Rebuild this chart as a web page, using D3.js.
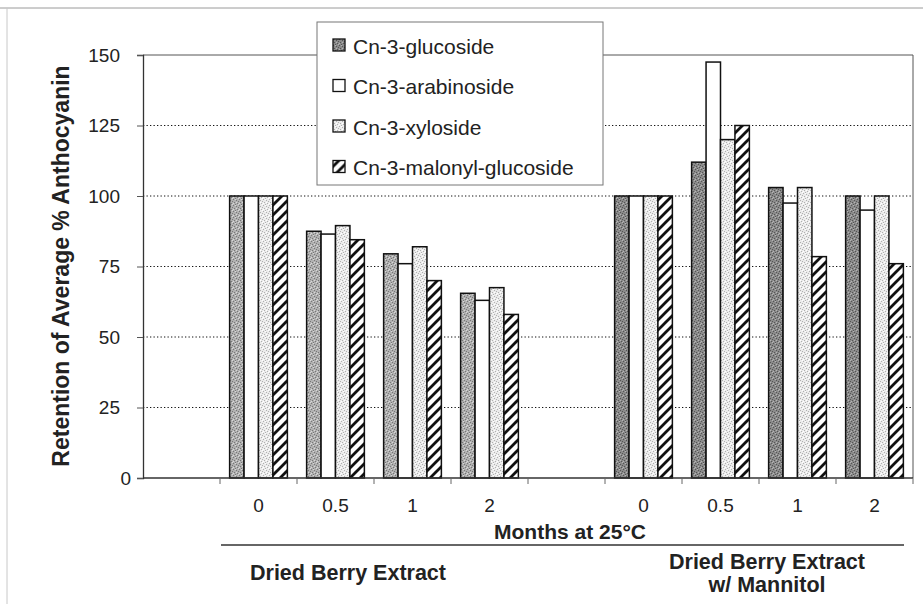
<!DOCTYPE html>
<html>
<head>
<meta charset="utf-8">
<script src="https://cdn.jsdelivr.net/npm/d3@7"></script>
<style>
  body { margin: 0; background: #fff; }
  text { font-family: "Liberation Sans", Arial, sans-serif; fill: #222; }
</style>
</head>
<body>
<div id="chart"></div>
<script>
// months at 25C, two blank slots separate the formulations
const categories = ["", "0", "0.5", "1", "2", "", "0", "0.5", "1", "2"];
const catGroup = [0, 0, 0, 0, 0, 1, 1, 1, 1, 1];
const groupLabels = [["Dried Berry Extract"], ["Dried Berry Extract", "w/ Mannitol"]];

const seriesNames = ["Cn-3-glucoside", "Cn-3-arabinoside", "Cn-3-xyloside", "Cn-3-malonyl-glucoside"];
const glucoside   = [null, 100, 87.5, 79.5, 65.5, null, 100, 112, 103, 100];
const arabinoside = [null, 100, 86.5, 76, 63, null, 100, 147.5, 97.5, 95];
const xyloside    = [null, 100, 89.5, 82, 67.5, null, 100, 120, 103, 100];
const malonyl     = [null, 100, 84.5, 70, 58, null, 100, 125, 78.5, 76];
const yTicks = [0, 25, 50, 75, 100, 125, 150];

const allSeries = [glucoside, arabinoside, xyloside, malonyl];

var width = 923, height = 604;
var margin = { top: 55, right: 10, bottom: 126, left: 143 };
var plotW = 913 - margin.left;
var plotH = height - margin.top - margin.bottom;

var svg = d3.select("#chart").append("svg")
  .attr("width", width)
  .attr("height", height);

svg.append("rect").attr("width", width).attr("height", height).attr("fill", "#fff");

// patterns
var defs = svg.append("defs");
function stipple(id, base, dark, light) {
  var p = defs.append("pattern").attr("id", id)
    .attr("patternUnits", "userSpaceOnUse").attr("width", 6).attr("height", 6);
  p.append("rect").attr("width", 6).attr("height", 6).attr("fill", base);
  [[0, 0], [3, 1], [1, 3], [4, 4], [5, 2], [2, 5]].forEach(d =>
    p.append("rect").attr("x", d[0]).attr("y", d[1]).attr("width", 1).attr("height", 1).attr("fill", dark));
  [[2, 0], [5, 5], [0, 4], [3, 3]].forEach(d =>
    p.append("rect").attr("x", d[0]).attr("y", d[1]).attr("width", 1).attr("height", 1).attr("fill", light));
}
stipple("glucA", "#b0b0b0", "#777", "#d8d8d8");
stipple("glucB", "#8a8a8a", "#555", "#b4b4b4");
stipple("xylo", "#ebebeb", "#b0b0b0", "#ffffff");

var hatch = defs.append("pattern").attr("id", "hatch")
  .attr("patternUnits", "userSpaceOnUse").attr("width", 10).attr("height", 10);
hatch.append("rect").attr("width", 10).attr("height", 10).attr("fill", "#fff");
hatch.append("path").attr("d", "M-2,2 l4,-4 M0,10 l10,-10 M8,12 l4,-4")
  .attr("stroke", "#111").attr("stroke-width", 2.8);

var fills = [
  (i) => catGroup[i] === 0 ? "url(#glucA)" : "url(#glucB)",
  () => "#fff",
  () => "url(#xylo)",
  () => "url(#hatch)"
];
var legendFills = ["url(#glucB)", "#fff", "url(#xylo)", "url(#hatch)"];

// outer frame of the scanned figure
svg.append("line").attr("x1", 0).attr("x2", width).attr("y1", 8).attr("y2", 8)
  .attr("stroke", "#9a9a9a").attr("stroke-width", 1);
svg.append("line").attr("x1", 7).attr("x2", 7).attr("y1", 8).attr("y2", height)
  .attr("stroke", "#c8c8c8").attr("stroke-width", 1);

var g = svg.append("g").attr("transform", "translate(" + margin.left + "," + margin.top + ")");

var x0 = d3.scaleBand()
  .domain(d3.range(categories.length))
  .range([0, plotW])
  .paddingInner(0.25)
  .paddingOuter(0.125);

var x1 = d3.scaleBand()
  .domain(d3.range(seriesNames.length))
  .range([0, x0.bandwidth()]);

var y = d3.scaleLinear().domain([0, 150]).range([plotH, 0]);

// plot frame (top and right)
g.append("path")
  .attr("d", "M0,0 H" + plotW + " V" + plotH)
  .attr("fill", "none").attr("stroke", "#555").attr("stroke-width", 1);

// dotted gridlines
g.selectAll(".grid").data(yTicks.filter(d => d > 0 && d < 150)).enter()
  .append("line").attr("class", "grid")
  .attr("x1", 0).attr("x2", plotW)
  .attr("y1", d => y(d)).attr("y2", d => y(d))
  .attr("stroke", "#111").attr("stroke-width", 1.2)
  .attr("stroke-dasharray", "1.3,2.2");

// bars
allSeries.forEach((vals, s) => {
  g.selectAll(".bar" + s)
    .data(vals.map((v, i) => ({ v: v, i: i })).filter(d => d.v !== null))
    .enter().append("rect")
    .attr("class", "bar" + s)
    .attr("x", d => x0(d.i) + x1(s))
    .attr("y", d => y(d.v))
    .attr("width", x1.bandwidth())
    .attr("height", d => y(0) - y(d.v))
    .attr("fill", d => fills[s](d.i))
    .attr("stroke", "#111")
    .attr("stroke-width", 1.5);
});

// y axis
var yAxis = g.append("g")
  .call(d3.axisLeft(y).tickValues(yTicks).tickSize(6).tickPadding(17));
yAxis.select(".domain").attr("stroke", "#333").attr("stroke-width", 1.3);
yAxis.selectAll(".tick line").attr("stroke", "#555");
yAxis.selectAll(".tick text")
  .attr("font-size", 19)
  .attr("font-family", "'Liberation Sans', Arial, sans-serif")
  .attr("fill", "#222")
  .attr("dx", d => d === 0 ? 11 : 0);

// x axis with ticks at category boundaries
var xAxisG = g.append("g").attr("transform", "translate(0," + plotH + ")");
xAxisG.append("line").attr("x1", 0).attr("x2", plotW)
  .attr("stroke", "#333").attr("stroke-width", 1.3);
xAxisG.selectAll(".xtick").data(d3.range(1, categories.length + 1)).enter()
  .append("line").attr("class", "xtick")
  .attr("x1", d => x0.step() * d).attr("x2", d => x0.step() * d)
  .attr("y1", 0).attr("y2", 6)
  .attr("stroke", "#666");
xAxisG.selectAll(".xlabel").data(categories).enter()
  .append("text").attr("class", "xlabel")
  .attr("x", (d, i) => x0(i) + x0.bandwidth() / 2)
  .attr("y", 34)
  .attr("text-anchor", "middle")
  .attr("font-size", 19)
  .text(d => d);

// axis titles
svg.append("text")
  .attr("transform", "translate(61,266) rotate(-90)")
  .attr("text-anchor", "middle")
  .attr("dominant-baseline", "central")
  .attr("font-size", 23)
  .attr("font-weight", "bold")
  .text("Retention of Average % Anthocyanin");

svg.append("text")
  .attr("x", 570).attr("y", 539)
  .attr("text-anchor", "middle")
  .attr("font-size", 21)
  .attr("font-weight", "bold")
  .text("Months at 25°C");

// group divider line and labels
svg.append("line")
  .attr("x1", 221).attr("x2", 904).attr("y1", 545).attr("y2", 545)
  .attr("stroke", "#333").attr("stroke-width", 1.5);

var groupX = [348, 767];
var groupY = [580, 569];
groupLabels.forEach((lines, k) => {
  var t = svg.append("text")
    .attr("x", groupX[k]).attr("y", groupY[k])
    .attr("text-anchor", "middle")
    .attr("font-size", 21.5)
    .attr("font-weight", "bold");
  lines.forEach((l, j) => t.append("tspan").attr("x", groupX[k]).attr("dy", j ? 23 : 0).text(l));
});

// legend
var legend = svg.append("g").attr("transform", "translate(317,22)");
legend.append("rect").attr("width", 286).attr("height", 163)
  .attr("fill", "#fff").attr("stroke", "#777").attr("stroke-width", 1);
var item = legend.selectAll(".item").data(seriesNames).enter()
  .append("g").attr("class", "item")
  .attr("transform", (d, i) => "translate(16," + (23 + i * 40.5) + ")");
item.append("rect")
  .attr("x", 0).attr("y", -6).attr("width", 12).attr("height", 12)
  .attr("fill", (d, i) => legendFills[i])
  .attr("stroke", "#111").attr("stroke-width", 1.3);
item.append("text")
  .attr("x", 20).attr("y", 1)
  .attr("dominant-baseline", "central")
  .attr("font-size", 21)
  .text(d => d);
</script>
</body>
</html>
